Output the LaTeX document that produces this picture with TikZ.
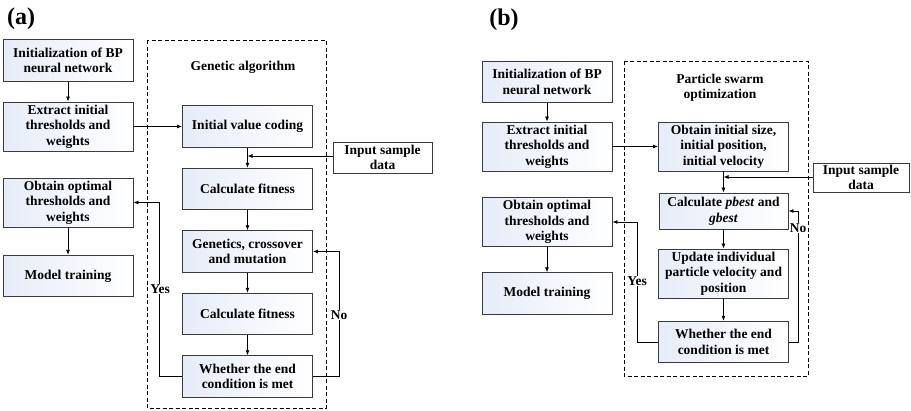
\documentclass[tikz,border=0pt]{standalone}
\usepackage{fontspec}
\setmainfont{Liberation Serif}
\usetikzlibrary{arrows.meta,calc,positioning}
\definecolor{boxblue}{RGB}{230,236,248}
\definecolor{boxline}{RGB}{60,60,60}
\tikzset{
	flowchart/.style={
		x=1pt, y=-1pt,
		font=\fontsize{13.5}{15.5}\selectfont\bfseries,
		every path/.style={line width=.8pt},
		ar/.style={-{Latex[length=5pt,width=4pt]}},
		},
	fbox/.style={draw=boxline, line width=.9pt, left color=boxblue, right color=white,
		align=center, inner sep=2pt, minimum width=#1},
	fbox/.default=130pt,
	fbig/.style={fbox, minimum height=49pt},
	fsmall/.style={fbox, minimum height=41.5pt},
	inbox/.style={draw=boxline, line width=.9pt, fill=white, align=center, inner sep=1pt},
	frame/.style={draw, dash pattern=on 4pt off 2.5pt, line width=.8pt},
	tag/.style={fill=white, inner sep=1pt},
	panel/.style={font=\fontsize{24}{28}\selectfont\bfseries}
}

\begin{document}
\begin{tikzpicture}[flowchart]
	\useasboundingbox (0,0) rectangle (911,410);
	% (a) genetic algorithm
	\node[panel] (pa) at (21,19) {(a)};
	\draw[frame] (147,40) rectangle (326,408);
	\node (gatitle) at (243,67) {Genetic algorithm};
	\node[fsmall] (a1) at (68,60.5) {Initialization of BP\\neural network};
	\node[fbig] (a2) at (68,126.5) {Extract initial\\thresholds and\\weights};
	\node[fbig] (a3) at (68,202.5) {Obtain optimal\\thresholds and\\weights};
	\node[fsmall] (a4) at (68,276) {Model training};
	\node[fsmall] (g1) at (247.5,126.5) {Initial value coding};
	\node[fsmall] (g2) at (247.5,189) {Calculate fitness};
	\node[fsmall] (g3) at (247.5,251.5) {Genetics, crossover\\and mutation};
	\node[fsmall] (g4) at (247.5,314) {Calculate fitness};
	\node[fsmall] (g5) at (247.5,376.5) {Whether the end\\condition is met};
	\node[inbox, minimum width=99pt, minimum height=31pt] (ina) at (382.5,157.5) {Input sample\\data};
	\draw[ar] (a1) -- (a2);
	\draw[ar] (a3) -- (a4);
	\draw[ar] (a2) -- (g1);
	\draw[ar] (g1) -- (g2);
	\draw[ar] (g2) -- (g3);
	\draw[ar] (g3) -- (g4);
	\draw[ar] (g4) -- (g5);
	\draw[ar] (ina.west |- 0,156) -- (g1.south |- 0,156);
	\draw[ar] (g5.west) -- (159,376.5) coordinate (yesa) |- (a3.east);
	\draw[ar] (g5.east) -- (339,376.5) coordinate (noa) |- (g3.east);
	\node[tag] (yesalab) at (160,289) {Yes};
	\node[tag] (noalab) at (339,315) {No};
	% (b) particle swarm optimization
	\node[panel] (pb) at (504,20) {(b)};
	\draw[frame] (624,61) rectangle (808,376);
	\node[align=center] (psotitle) at (720,88) {Particle swarm\\optimization};
	\node[fsmall=128pt] (b1) at (547,82) {Initialization of BP\\neural network};
	\node[fbig=128pt] (b2) at (547,146.5) {Extract initial\\thresholds and\\weights};
	\node[fbig=128pt] (b3) at (547,222) {Obtain optimal\\thresholds and\\weights};
	\node[fsmall=128pt] (b4) at (547,293.5) {Model training};
	\node[fbig=129pt] (p1) at (723.5,146.5) {Obtain initial size,\\initial position,\\initial velocity};
	\node[fbox=129pt, minimum height=36pt] (p2) at (723.5,211) {Calculate \textit{pbest} and\\\textit{gbest}};
	\node[fbig=129pt] (p3) at (723.5,273.5) {Update individual\\particle velocity and\\position};
	\node[fsmall=129pt] (p4) at (723.5,342) {Whether the end\\condition is met};
	\node[inbox, minimum width=96pt, minimum height=29pt] (inb) at (861,177.5) {Input sample\\data};
	\draw[ar] (b1) -- (b2);
	\draw[ar] (b3) -- (b4);
	\draw[ar] (b2) -- (p1);
	\draw[ar] (p1) -- (p2);
	\draw[ar] (p2) -- (p3);
	\draw[ar] (p3) -- (p4);
	\draw[ar] (inb.west |- 0,177) -- (p1.south |- 0,177);
	\draw[ar] (p4.west) -- (637,342) coordinate (yesb) |- (b3.east);
	\draw[ar] (p4.east) -- (798,342) coordinate (nob) |- (p2.east);
	\node[tag] (yesblab) at (637,281) {Yes};
	\node[tag] (noblab) at (798,228) {No};
\end{tikzpicture}
\end{document}
